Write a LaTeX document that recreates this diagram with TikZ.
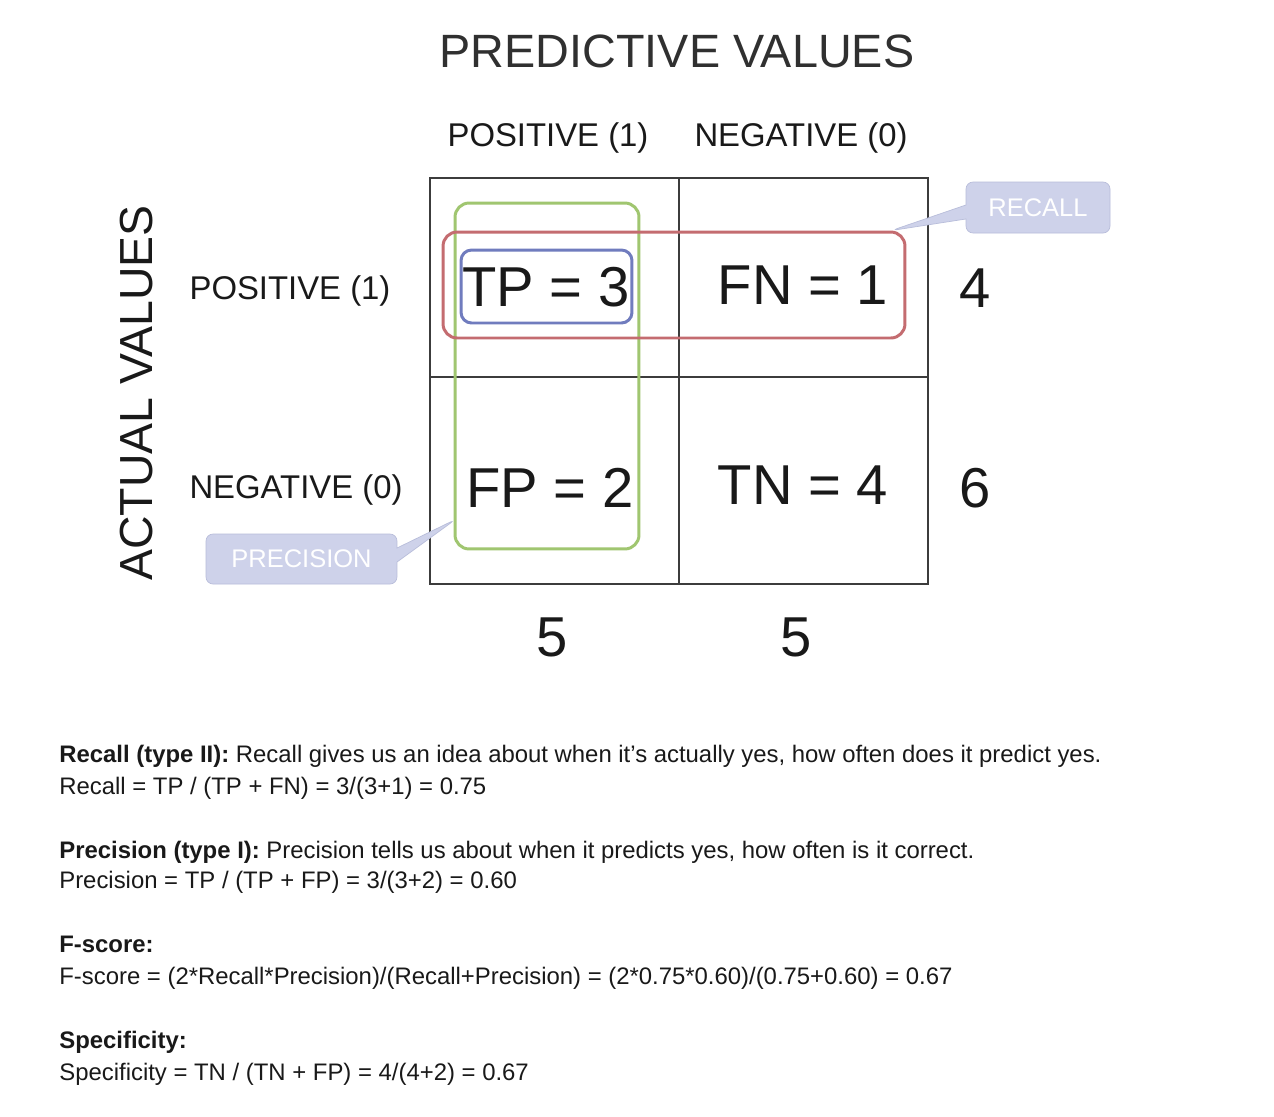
\documentclass[tikz,border=0pt]{standalone}
\usepackage{fontspec}
\setmainfont{Liberation Sans}
\usetikzlibrary{shapes.callouts,calc}
\definecolor{ink}{RGB}{25,25,25}
\definecolor{gridc}{RGB}{60,60,60}
\definecolor{recallc}{RGB}{196,108,112}
\definecolor{precc}{RGB}{160,198,112}
\definecolor{tpc}{RGB}{112,124,190}
\definecolor{callfill}{RGB}{206,210,234}
\definecolor{callline}{RGB}{184,189,218}
\tikzset{
  big/.style={font=\fontsize{32}{38}\selectfont, text=ink, inner sep=0pt},
  head/.style={font=\fontsize{18.7}{22}\selectfont, text=ink, inner sep=0pt},
  hl/.style={draw, line width=1.7pt, rounded corners=8pt, inner sep=0pt},
  tag/.style={rectangle callout, fill=callfill, draw=callline, rounded corners=4pt,
    text=white, font=\fontsize{14.5}{17}\selectfont, inner sep=0pt,
    callout pointer width=0.28cm},
  body/.style={anchor=base west, font=\fontsize{13.6}{16}\selectfont, text=ink, inner sep=0pt}
}

\begin{document}
\begin{tikzpicture}[x=0.02cm, y=-0.02cm]
  \fill[white] (0,0) rectangle (1274,1116);
  \useasboundingbox (0,0) rectangle (1274,1116);

  % headings
  \node[font=\fontsize{26.6}{32}\selectfont, text=ink!90] (predicted) at (677,51) {PREDICTIVE VALUES};
  \node[head] (predpos) at (548,138) {POSITIVE (1)};
  \node[head] (predneg) at (801,138) {NEGATIVE (0)};
  \node[head] (actpos) at (290,291) {POSITIVE (1)};
  \node[head] (actneg) at (296,490) {NEGATIVE (0)};
  \node[font=\fontsize{26.4}{31}\selectfont, text=ink, rotate=90] (actual) at (137,393) {ACTUAL VALUES};

  % matrix
  \draw[gridc, line width=1.1pt] (430,178) rectangle (928,584);
  \draw[gridc, line width=1.1pt] (679,178) -- (679,584);
  \draw[gridc, line width=1.1pt] (430,377) -- (928,377);

  \node[hl, draw=precc, minimum width=3.68cm, minimum height=6.92cm] (precbox) at (547,376) {};
  \node[hl, draw=recallc, minimum width=9.24cm, minimum height=2.12cm] (recallbox) at (674,285) {};
  \node[hl, draw=tpc, rounded corners=6pt, minimum width=3.42cm, minimum height=1.46cm] (tpbox) at (546.5,286.5) {};

  \node[big] (tp) at (546,287) {TP = 3};
  \node[big] (fn) at (803,285) {FN = 1};
  \node[big] (fp) at (550,488) {FP = 2};
  \node[big] (tn) at (803,485) {TN = 4};

  \node[big] (rowpos) at (975,288) {4};
  \node[big] (rowneg) at (975,488) {6};
  \node[big] (colpos) at (552,637) {5};
  \node[big] (colneg) at (796,637) {5};

  \node[tag, minimum width=2.88cm, minimum height=1.02cm,
    callout absolute pointer={($(recallbox.north east)+(-15,0)$)}] (recall) at (1038,207.5) {RECALL};
  \node[tag, minimum width=3.82cm, minimum height=1.0cm,
    callout absolute pointer={($(precbox.south west)+(2,-31)$)}] (precision) at (301.5,559) {PRECISION};

  % definitions
  \node[body] (r1) at (59,762) {\textbf{Recall (type II):} Recall gives us an idea about when it’s actually yes, how often does it predict yes.};
  \node[body] (r2) at (59,794) {Recall = TP / (TP + FN) = 3/(3+1) = 0.75};
  \node[body] (p1) at (59,858) {\textbf{Precision (type I):} Precision tells us about when it predicts yes, how often is it correct.};
  \node[body] (p2) at (59,888) {Precision = TP / (TP + FP) = 3/(3+2) = 0.60};
  \node[body] (f1) at (59,952) {\textbf{F-score:}};
  \node[body] (f2) at (59,984) {F-score = (2*Recall*Precision)/(Recall+Precision) = (2*0.75*0.60)/(0.75+0.60) = 0.67};
  \node[body] (s1) at (59,1048) {\textbf{Specificity:}};
  \node[body] (s2) at (59,1080) {Specificity = TN / (TN + FP) = 4/(4+2) = 0.67};
\end{tikzpicture}
\end{document}
